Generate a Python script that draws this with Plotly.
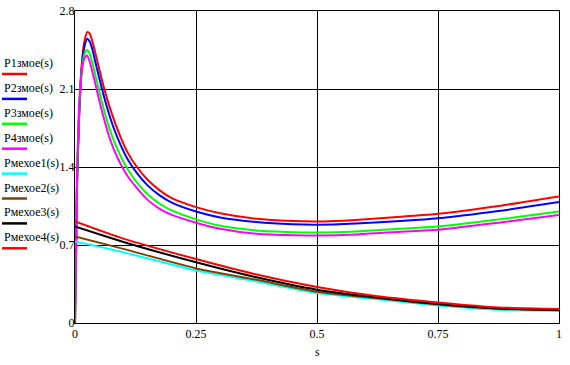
import plotly.graph_objects as go

# ---- data ----
s_zm = [0, 0.004, 0.008, 0.012, 0.016, 0.02, 0.025, 0.03, 0.035, 0.04, 0.05, 0.06, 0.07, 0.08,
        0.095, 0.11, 0.128, 0.15, 0.175, 0.2, 0.25, 0.3, 0.375, 0.45, 0.5, 0.58, 0.68, 0.75, 0.875, 1.0]
p1_zm = [0, 1.2, 1.8, 2.2, 2.42, 2.54, 2.61, 2.60, 2.54, 2.46, 2.28, 2.11, 1.96, 1.83,
         1.66, 1.52, 1.40, 1.285, 1.19, 1.12, 1.04, 0.985, 0.935, 0.915, 0.911, 0.925, 0.956, 0.98, 1.05, 1.135]
p2_zm = [0, 1.2, 1.8, 2.17, 2.38, 2.49, 2.55, 2.53, 2.47, 2.38, 2.20, 2.03, 1.88, 1.75,
         1.59, 1.46, 1.345, 1.235, 1.145, 1.08, 1.0, 0.947, 0.906, 0.886, 0.882, 0.893, 0.917, 0.94, 1.005, 1.085]
p3_zm = [0, 1.25, 1.85, 2.17, 2.34, 2.42, 2.45, 2.42, 2.35, 2.26, 2.08, 1.91, 1.76, 1.64,
         1.49, 1.37, 1.26, 1.155, 1.07, 1.01, 0.93, 0.872, 0.83, 0.815, 0.812, 0.822, 0.848, 0.866, 0.93, 1.0]
p4_zm = [0, 1.3, 1.9, 2.18, 2.32, 2.38, 2.40, 2.35, 2.27, 2.18, 2.00, 1.83, 1.68, 1.56,
         1.42, 1.31, 1.21, 1.105, 1.025, 0.97, 0.90, 0.845, 0.80, 0.787, 0.786, 0.795, 0.822, 0.837, 0.90, 0.969]

s_mex = [0, 0.1, 0.25, 0.375, 0.5, 0.625, 0.75, 0.875, 1.0]
p1_mex = [0.732, 0.635, 0.47, 0.373, 0.269, 0.213, 0.158, 0.12, 0.11]
p2_mex = [0.777, 0.665, 0.49, 0.388, 0.281, 0.222, 0.166, 0.128, 0.115]
p3_mex = [0.866, 0.727, 0.545, 0.41, 0.299, 0.228, 0.17, 0.13, 0.117]
p4_mex = [0.911, 0.757, 0.574, 0.435, 0.323, 0.24, 0.185, 0.14, 0.125]

names = ["P1змое(s)", "P2змое(s)", "P3змое(s)", "P4змое(s)",
         "Pмехое1(s)", "Pмехое2(s)", "Pмехое3(s)", "Pмехое4(s)"]
colors = ["#FF0000", "#0000FF", "#00FF00", "#FF00FF",
          "#00FFFF", "#804000", "#000000", "#FF0000"]

x_ticks = [0, 0.25, 0.5, 0.75, 1]
x_ticktext = ["0", "0.25", "0.5", "0.75", "1"]
y_ticks = [0, 0.7, 1.4, 2.1, 2.8]
y_ticktext = ["0", "0.7", "1.4", "2.1", "2.8"]

series = [(s_zm, p1_zm), (s_zm, p2_zm), (s_zm, p3_zm), (s_zm, p4_zm),
          (s_mex, p1_mex), (s_mex, p2_mex), (s_mex, p3_mex), (s_mex, p4_mex)]

fig = go.Figure()
for (xs, ys), nm, c in zip(series, names, colors):
    fig.add_trace(go.Scatter(x=xs, y=ys, mode="lines", name=nm,
                             line=dict(color=c, width=2, shape="spline", smoothing=0.6),
                             showlegend=False))

FONT = "Liberation Serif, Times New Roman, serif"
W, H = 570, 365
ml, mr, mt, mb = 75, 11, 11, 42
ph = H - mt - mb
pw = W - ml - mr

# custom legend (label above a coloured line), left of the plot area
for i, (nm, c) in enumerate(zip(names, colors)):
    ty = 63 + i * 24.9
    ly = 74 + i * 24.9
    fig.add_annotation(text=nm, xref="paper", yref="paper",
                       x=(2 - ml) / pw, y=1 - (ty - mt) / ph,
                       xanchor="left", yanchor="middle", showarrow=False,
                       font=dict(family=FONT, size=12, color="#000000"))
    fig.add_shape(type="line", xref="paper", yref="paper",
                  x0=(2 - ml) / pw, x1=(27 - ml) / pw,
                  y0=1 - (ly - mt) / ph, y1=1 - (ly - mt) / ph,
                  line=dict(color=c, width=2.5))

# axis title "s"
fig.add_annotation(text="s", xref="paper", yref="paper", x=0.5,
                   y=-(352 - (H - mb)) / ph, xanchor="center", yanchor="middle",
                   showarrow=False, font=dict(family=FONT, size=12, color="#000000"))

fig.update_layout(
    width=W, height=H,
    margin=dict(l=ml, r=mr, t=mt, b=mb),
    paper_bgcolor="white", plot_bgcolor="white",
    font=dict(family=FONT, size=12, color="#000000"),
    xaxis=dict(range=[0, 1], tickvals=x_ticks, ticktext=x_ticktext,
               showgrid=True, gridcolor="#000000", gridwidth=1,
               showline=True, linecolor="#000000", linewidth=1, mirror=True,
               zeroline=False, ticks="", automargin=False, ticklabeloverflow="allow",
               tickfont=dict(family=FONT, size=12, color="#000000")),
    yaxis=dict(range=[0, 2.8], tickvals=y_ticks, ticktext=y_ticktext,
               showgrid=True, gridcolor="#000000", gridwidth=1,
               showline=True, linecolor="#000000", linewidth=1, mirror=True,
               zeroline=False, ticks="", automargin=False, ticklabeloverflow="allow",
               ticklabelstandoff=-3,
               tickfont=dict(family=FONT, size=12, color="#000000")),
)

fig.write_html("out.html", config={"displayModeBar": False},
               post_script="document.body.style.margin='0';document.body.style.overflow='hidden';")
